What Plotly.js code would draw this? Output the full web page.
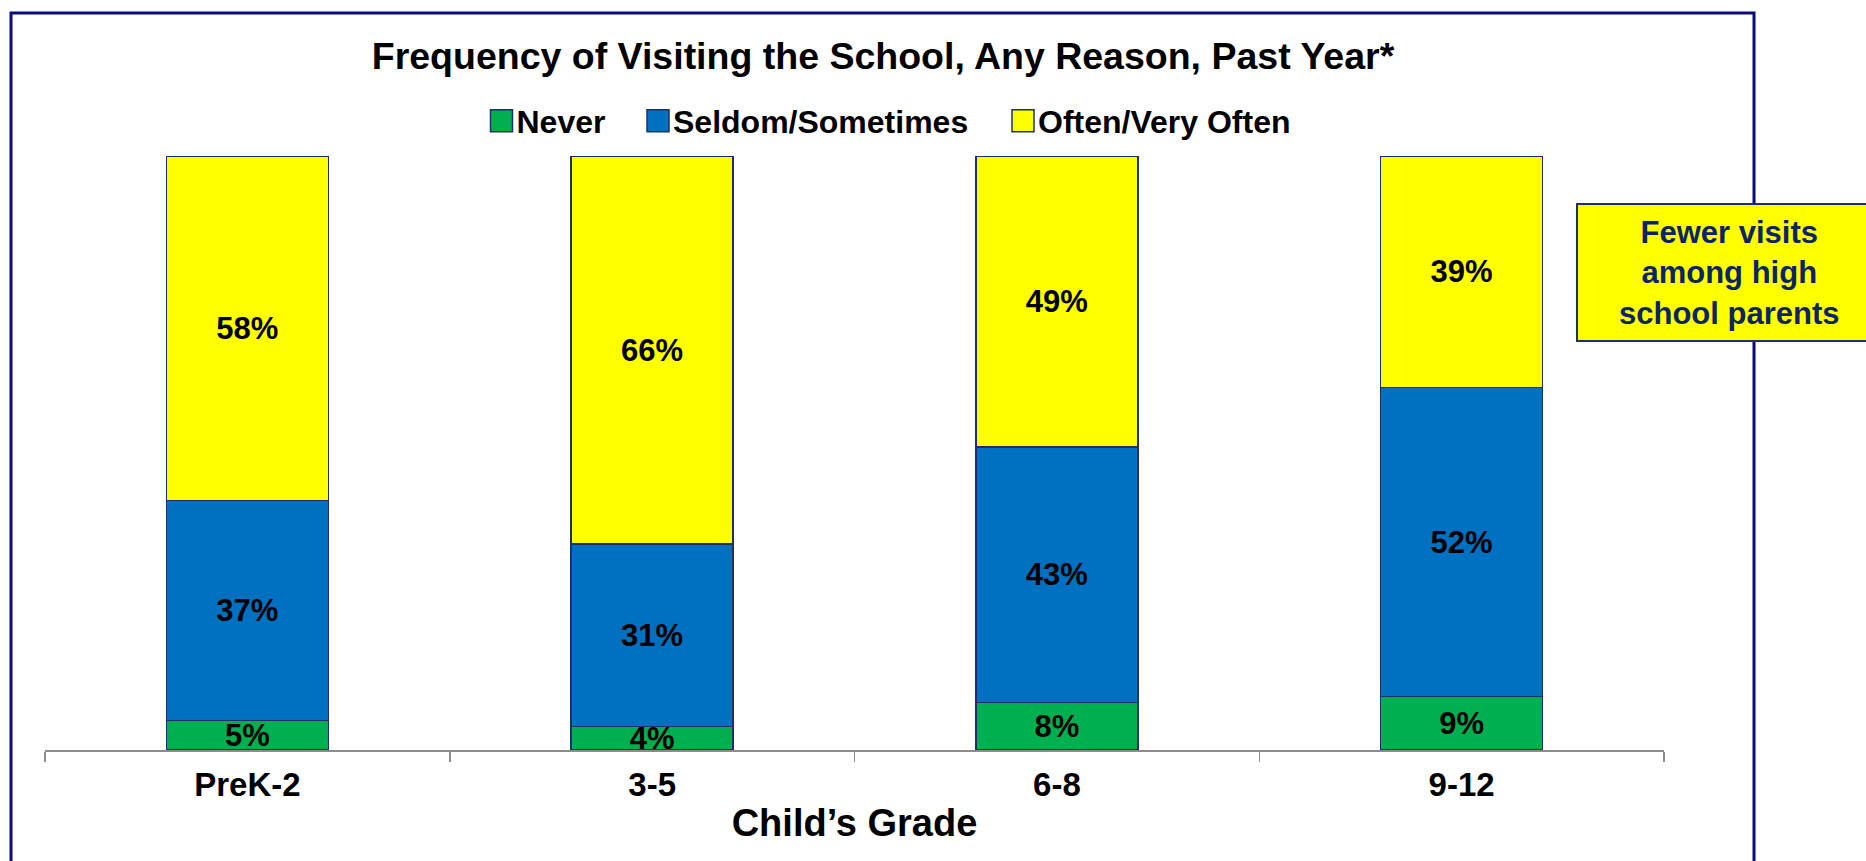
<!DOCTYPE html>
<html>
<head>
<meta charset="utf-8">
<script src="https://cdn.plot.ly/plotly-3.0.1.min.js"></script>
<style>
html,body{margin:0;padding:0;background:#fff;}
#chart{width:1866px;height:861px;}
</style>
</head>
<body>
<div id="chart"></div>
<script>
// ---- data ----
const categories = ["PreK-2", "3-5", "6-8", "9-12"];
const seriesNames = ["Never", "Seldom/Sometimes", "Often/Very Often"];
const never = [5, 4, 8, 9];
const seldom = [37, 31, 43, 52];
const often = [58, 66, 49, 39];
const chartTitle = "Frequency of Visiting the School, Any Reason, Past Year*";
const xTitle = "Child’s Grade";
const noteText = "Fewer visits<br>among high<br>school parents";

// ---- style ----
const FONT = "Liberation Sans, Arial, sans-serif";
const colors = ["#00B050", "#0070C0", "#FFFF00"];
const outline = "#1F2F6B";
const legendIds = ["legend", "legend2", "legend3"];
const legendX = [0.26652, 0.36319, 0.58864];

const seriesValues = [never, seldom, often];
const traces = seriesValues.map((vals, i) => ({
  type: "bar",
  name: seriesNames[i],
  legend: legendIds[i],
  x: categories,
  y: vals,
  width: 0.4,
  text: vals.map(v => v + "%"),
  texttemplate: "%{text}",
  textposition: "inside",
  insidetextanchor: "middle",
  constraintext: "none",
  textangle: 0,
  cliponaxis: false,
  textfont: {family: FONT, size: 31, color: "#000000", weight: "bold"},
  marker: {color: colors[i], line: {color: outline, width: 1.5}},
  hoverinfo: "skip"
}));

const legendStyle = (x) => ({
  orientation: "h",
  x: x, xanchor: "left",
  y: 1.0589, yanchor: "middle",
  font: {family: FONT, size: 32, color: "#000000", weight: "bold"},
  bgcolor: "rgba(0,0,0,0)",
  borderwidth: 0
});

const layout = {
  width: 1866,
  height: 861,
  margin: {l: 45, r: 202, t: 156, b: 111, pad: 0},
  paper_bgcolor: "#ffffff",
  plot_bgcolor: "#ffffff",
  barmode: "stack",
  barnorm: "percent",
  showlegend: true,
  font: {family: FONT, color: "#000000"},
  title: {
    text: chartTitle,
    font: {family: FONT, size: 37.5, color: "#000000", weight: "bold"},
    xref: "container", x: 883 / 1866, xanchor: "center",
    yref: "container", y: 1 - 56 / 861, yanchor: "middle"
  },
  legend: legendStyle(legendX[0]),
  legend2: legendStyle(legendX[1]),
  legend3: legendStyle(legendX[2]),
  xaxis: {
    type: "category",
    range: [-0.5, 3.5],
    showgrid: false,
    zeroline: false,
    showline: true,
    linecolor: "#8C8C8C",
    linewidth: 2,
    ticks: "outside",
    tickson: "boundaries",
    ticklen: 10,
    tickwidth: 1.5,
    tickcolor: "#8C8C8C",
    ticklabelstandoff: 4,
    tickfont: {family: FONT, size: 33, color: "#000000", weight: "bold"},
    title: {text: xTitle, font: {family: FONT, size: 38, color: "#000000", weight: "bold"}, standoff: 8}
  },
  yaxis: {
    range: [0, 100],
    visible: false,
    showgrid: false,
    zeroline: false,
    fixedrange: true
  },
  shapes: [
    {type: "rect", xref: "paper", yref: "paper", x0: -0.0210, x1: 1.0556, y0: -0.2525, y1: 1.2407,
     line: {color: "#0A0A78", width: 3}, fillcolor: "rgba(0,0,0,0)", layer: "below"},
    {type: "rect", xref: "paper", yref: "paper", x0: 0.94626, x1: 1.1334, y0: 0.68855, y1: 0.91919,
     line: {color: "#1F2F6B", width: 2}, fillcolor: "#FFFF00", layer: "above"}
  ],
  annotations: [
    {text: noteText, xref: "paper", yref: "paper", x: 1.04015, y: 0.80303,
     xanchor: "center", yanchor: "middle", showarrow: false, align: "center",
     font: {family: FONT, size: 31, color: "#0B2466", weight: "bold"}}
  ]
};

Plotly.newPlot("chart", traces, layout, {displayModeBar: false, staticPlot: true}).then(() => {
  document.querySelectorAll(".legendpoints path").forEach(p => {
    p.setAttribute("d", "M-6,-11H16V11H-6Z");
  });
});
</script>
</body>
</html>
